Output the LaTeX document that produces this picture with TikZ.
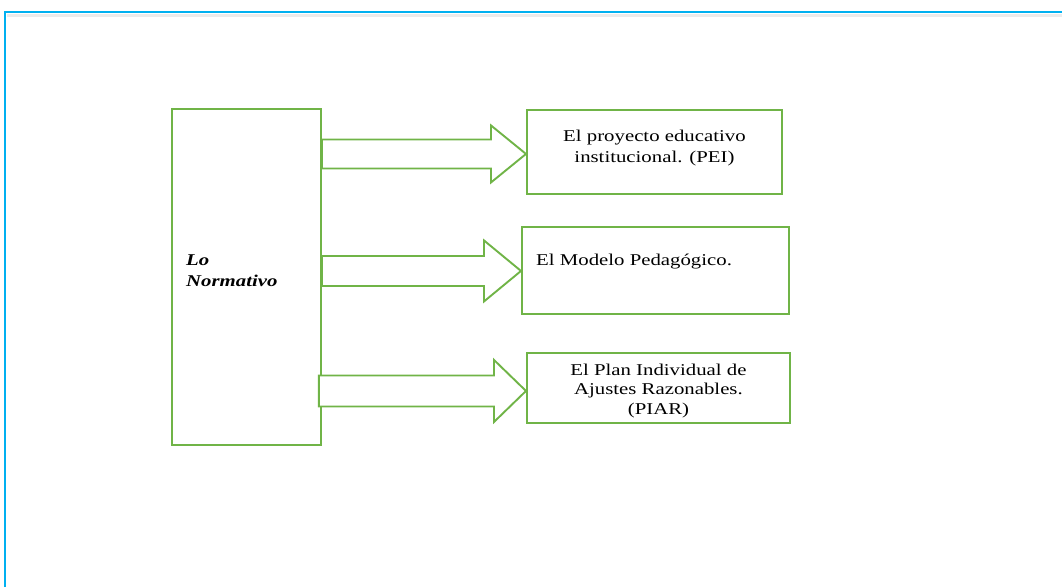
\documentclass[tikz,border=0pt]{standalone}
\usepackage{fontspec}
\setmainfont{Liberation Serif}[FakeStretch=1.26]
\usetikzlibrary{calc}
\definecolor{grn}{RGB}{112,180,71}
\definecolor{cyn}{RGB}{0,176,240}
\tikzset{
  box/.style={draw=grn, line width=1.9pt, rectangle, inner sep=0pt, anchor=north west},
  arr/.style={draw=grn, line width=1.9pt, line join=miter, fill=white},
  txt/.style={font=\fontsize{16.5}{20}\selectfont, align=center, inner sep=0pt},
}
\begin{document}
\begin{tikzpicture}[x=1pt,y=-1pt]
\useasboundingbox (0,0) rectangle (1062,587);
% frame
\draw[black!8, line width=2.5pt] (7,15.5) -- (1062,15.5);
\draw[cyn, line width=2.5pt] (5,587) -- (5,12) -- (1062,12);
% boxes
\node[box, minimum width=149pt, minimum height=336pt] (lo) at (171,108) {};
\node[box, minimum width=255pt, minimum height=84pt] (b1) at (526,109) {};
\node[box, minimum width=267pt, minimum height=87pt] (b2) at (521,226) {};
\node[box, minimum width=263pt, minimum height=70pt] (b3) at (526,352) {};
% texts
\node[txt, font=\fontsize{16.5}{21}\selectfont\bfseries\itshape, align=left, anchor=west] (lot) at ($(lo.north west)+(15,163)$) {Lo\\Normativo};
\node[txt, font=\fontsize{16.5}{21}\selectfont] (t1) at ($(b1.north)+(0,39)$) {El proyecto educativo\\institucional. (PEI)};
\node[txt, anchor=west] (t2) at ($(b2.north west)+(15,36)$) {El Modelo Pedag\'ogico.};
\node[txt, font=\fontsize{16.5}{19.5}\selectfont] (t3) at ($(b3.north)+(0,39)$) {El Plan Individual de\\Ajustes Razonables.\\(PIAR)};
% block arrows
\coordinate (p1) at ($(b1.west)+(0,2)$);
\coordinate (p2) at ($(b2.west)+(0,0.5)$);
\coordinate (p3) at ($(b3.west)+(0,3)$);
\draw[arr] let \p1=(p1), \p2=(lo.east) in
  (\x2,\y1+14.5) -- (\x1-35,\y1+14.5) -- (\x1-35,\y1+28.5) -- (\x1,\y1)
  -- (\x1-35,\y1-28.5) -- (\x1-35,\y1-14.5) -- (\x2,\y1-14.5) -- cycle;
\draw[arr] let \p1=(p2), \p2=(lo.east) in
  (\x2,\y1+15) -- (\x1-37,\y1+15) -- (\x1-37,\y1+30.5) -- (\x1,\y1)
  -- (\x1-37,\y1-30.5) -- (\x1-37,\y1-15) -- (\x2,\y1-15) -- cycle;
\draw[arr] let \p1=(p3), \p2=(lo.east) in
  (\x2-3,\y1+15.5) -- (\x1-32,\y1+15.5) -- (\x1-32,\y1+31) -- (\x1,\y1)
  -- (\x1-32,\y1-31) -- (\x1-32,\y1-15.5) -- (\x2-3,\y1-15.5) -- cycle;
\end{tikzpicture}
\end{document}
